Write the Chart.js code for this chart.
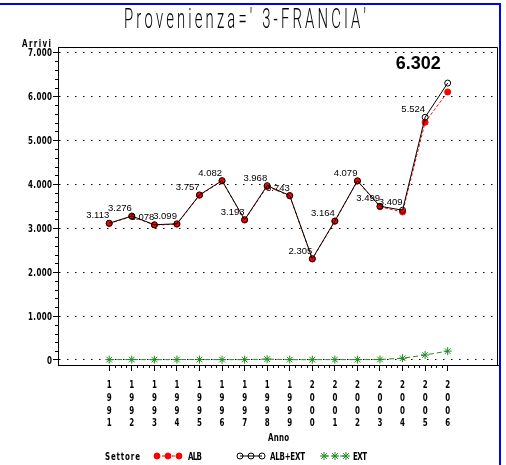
<!DOCTYPE html>
<html>
<head>
<meta charset="utf-8">
<script src="https://cdn.jsdelivr.net/npm/chart.js@4/dist/chart.umd.min.js"></script>
<style>
  body { margin: 0; background: #fff; }
</style>
</head>
<body>
<canvas id="chart" width="506" height="465"></canvas>
<script>
// data
var anni = [1991, 1992, 1993, 1994, 1995, 1996, 1997, 1998, 1999, 2000, 2001, 2002, 2003, 2004, 2005, 2006];
var albExt = [3113, 3276, 3078, 3099, 3757, 4082, 3193, 3968, 3743, 2305, 3164, 4079, 3499, 3409, 5524, 6302];
var ext = [8, 10, 7, 9, 10, 8, 9, 20, 8, 7, 9, 8, 12, 40, 114, 202];
var alb = [3105, 3266, 3071, 3090, 3747, 4074, 3184, 3948, 3735, 2298, 3155, 4071, 3487, 3369, 5410, 6100];
var yTicks = [0, 1000, 2000, 3000, 4000, 5000, 6000, 7000];

var titolo = "Provenienza=' 3-FRANCIA'";
var narrow = "bold 10.5px 'DejaVu Sans Condensed', 'DejaVu Sans', sans-serif";

// 3113 -> "3.113"
function fmt(v) {
  return String(Math.round(v)).replace(/\B(?=(\d{3})+(?!\d))/g, '.');
}

// draws text squeezed by sx, chars separated by gap
function spaced(ctx, text, x, y, sx, gap, align) {
  var ws = text.split('').map(function(c) { return ctx.measureText(c).width * sx; });
  var total = ws.reduce(function(a, b) { return a + b; }, 0) + gap * (text.length - 1);
  var cx = align === 'center' ? x - total / 2 : (align === 'right' ? x - total : x);
  for (var i = 0; i < text.length; i++) {
    ctx.save();
    ctx.translate(cx, y);
    ctx.scale(sx, 1);
    ctx.textAlign = 'left';
    ctx.fillText(text[i], 0, 0);
    ctx.restore();
    cx += ws[i] + gap;
  }
}

// same, but stretched to a given width
function fitted(ctx, text, x, y, sx, width) {
  var sum = 0;
  for (var i = 0; i < text.length; i++) sum += ctx.measureText(text[i]).width * sx;
  spaced(ctx, text, x, y, sx, (width - sum) / (text.length - 1), 'left');
}

var colALB = '#ff0000';
var colTot = '#000000';
var colEXT = '#1e8c1e';

// title, frame, minor ticks, tick labels, value labels, legend
var extras = {
  id: 'extras',
  afterDraw: function(chart) {
    var ctx = chart.ctx;
    var area = chart.chartArea;
    var xs = chart.scales.x, ys = chart.scales.y;
    var i, v;
    ctx.save();

    // blue outer border (top and right)
    ctx.strokeStyle = '#0000ff';
    ctx.lineWidth = 2;
    ctx.beginPath();
    ctx.moveTo(0, 4);
    ctx.lineTo(500, 4);
    ctx.lineTo(500, 465);
    ctx.stroke();

    // plot frame top and right
    ctx.strokeStyle = '#000';
    ctx.lineWidth = 1;
    ctx.beginPath();
    ctx.moveTo(area.left, area.top + 0.5);
    ctx.lineTo(area.right - 0.5, area.top + 0.5);
    ctx.lineTo(area.right - 0.5, area.bottom);
    ctx.stroke();

    // minor ticks on y (every 200)
    ctx.beginPath();
    for (v = 200; v < 7000; v += 200) {
      if (v % 1000 === 0) continue;
      var py = Math.round(ys.getPixelForValue(v)) + 0.5;
      ctx.moveTo(area.left - 3, py);
      ctx.lineTo(area.left, py);
    }
    // minor ticks on x (quarters)
    for (v = anni[0]; v < anni[anni.length - 1]; v += 0.25) {
      if (v % 1 === 0) continue;
      var px = Math.round(xs.getPixelForValue(v)) + 0.5;
      ctx.moveTo(px, area.bottom);
      ctx.lineTo(px, area.bottom + 3);
    }
    ctx.stroke();

    ctx.fillStyle = '#000';
    ctx.textBaseline = 'alphabetic';

    // title, thin, narrow and spaced out
    ctx.font = "300 27px Roboto, 'DejaVu Sans', sans-serif";
    fitted(ctx, titolo, 124, 28, 0.55, 242);

    // tick labels, squeezed like the original hardware font
    ctx.font = narrow;
    ys.ticks.forEach(function(t) {
      spaced(ctx, fmt(t.value), 52, ys.getPixelForValue(t.value) + 4, 0.75, 0.4, 'right');
    });
    xs.ticks.forEach(function(t) {
      var s = String(t.value);
      var tx = xs.getPixelForValue(t.value);
      for (var k = 0; k < s.length; k++) {
        spaced(ctx, s[k], tx, 388 + k * 12.8, 0.75, 0, 'center');
      }
    });

    // axis captions
    fitted(ctx, 'Arrivi', 22, 47, 0.75, 29);
    fitted(ctx, 'Anno', 268, 441, 0.75, 21);

    // value labels of ALB+EXT
    var meta = chart.getDatasetMeta(0);
    ctx.textAlign = 'right';
    for (i = 0; i < meta.data.length; i++) {
      var pt = meta.data[i];
      if (i === meta.data.length - 1) {
        ctx.font = "bold 18px 'Liberation Sans', Arial, sans-serif";
        ctx.fillText(fmt(albExt[i]), pt.x - 7, pt.y - 14);
      } else {
        ctx.font = "9.5px 'Liberation Sans', Arial, sans-serif";
        ctx.fillText(fmt(albExt[i]), pt.x, pt.y - 5);
      }
    }

    // legend
    var ly = 456;
    ctx.font = narrow;
    fitted(ctx, 'Settore', 105, ly + 4, 0.75, 35);
    var pos = { 'ALB': [157, 188, 14], 'ALB+EXT': [240, 270, 35], 'EXT': [324, 353, 14] };
    chart.data.datasets.forEach(function(ds) {
      var p = pos[ds.label];
      var x0 = p[0], x1 = x0 + 22;
      ctx.save();
      ctx.strokeStyle = ds.borderColor;
      ctx.lineWidth = 1;
      ctx.setLineDash(ds.borderDash || []);
      ctx.beginPath();
      ctx.moveTo(x0, ly);
      ctx.lineTo(x1, ly);
      ctx.stroke();
      ctx.setLineDash([]);
      [x0, (x0 + x1) / 2, x1].forEach(function(mx) {
        ctx.fillStyle = ds.pointBackgroundColor;
        ctx.strokeStyle = ds.pointBorderColor;
        Chart.helpers.drawPoint(ctx, {
          pointStyle: ds.pointStyle, radius: ds.pointRadius, rotation: 0, borderWidth: 1
        }, mx, ly);
      });
      ctx.restore();
      ctx.fillStyle = '#000';
      ctx.font = narrow;
      fitted(ctx, ds.label, p[1], ly + 4, 0.75, p[2]);
    });

    ctx.restore();
  }
};

function points(vals) {
  return anni.map(function(a, i) { return { x: a, y: vals[i] }; });
}

new Chart(document.getElementById('chart'), {
  type: 'line',
  data: {
    datasets: [{
      label: 'ALB+EXT',
      data: points(albExt),
      borderColor: colTot,
      borderWidth: 1,
      pointStyle: 'circle',
      pointRadius: 3,
      pointBackgroundColor: 'rgba(0,0,0,0)',
      pointBorderColor: colTot,
      pointBorderWidth: 1,
      order: 1
    }, {
      label: 'ALB',
      data: points(alb),
      borderColor: colALB,
      borderWidth: 1,
      borderDash: [3, 2],
      pointStyle: 'circle',
      pointRadius: 3,
      pointBackgroundColor: colALB,
      pointBorderColor: colALB,
      pointBorderWidth: 1,
      order: 2
    }, {
      label: 'EXT',
      data: points(ext),
      borderColor: colEXT,
      borderWidth: 1,
      borderDash: [5, 3],
      pointStyle: 'star',
      pointRadius: 4,
      pointBackgroundColor: colEXT,
      pointBorderColor: colEXT,
      pointBorderWidth: 1,
      order: 3
    }]
  },
  options: {
    responsive: false,
    animation: false,
    layout: { padding: { top: 47, right: 8, left: 0, bottom: 0 } },
    plugins: {
      legend: { display: false },
      title: { display: false },
      tooltip: { enabled: false }
    },
    scales: {
      x: {
        type: 'linear',
        min: 1988.73,
        max: 2008.23,
        afterBuildTicks: function(scale) {
          scale.ticks = anni.map(function(a) { return { value: a }; });
        },
        afterFit: function(scale) { scale.height = 100; },
        grid: { drawOnChartArea: false, tickLength: 6, tickColor: '#000' },
        border: { color: '#000', width: 1 },
        ticks: { display: false, autoSkip: false, maxRotation: 0 }
      },
      y: {
        min: -114,
        max: 7123,
        afterBuildTicks: function(scale) {
          scale.ticks = yTicks.map(function(t) { return { value: t }; });
        },
        afterFit: function(scale) { scale.width = 58; },
        grid: { color: '#000', lineWidth: 1, tickLength: 5, tickColor: '#000' },
        border: { color: '#000', width: 1, dash: [1.5, 6.5] },
        ticks: { display: false }
      }
    }
  },
  plugins: [extras]
});
</script>
</body>
</html>
